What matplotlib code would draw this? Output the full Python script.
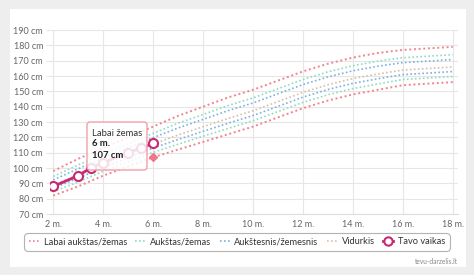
import matplotlib.pyplot as plt
from matplotlib.patches import FancyBboxPatch, Rectangle
from matplotlib.lines import Line2D
from matplotlib.transforms import IdentityTransform

plt.rcParams['font.family'] = ['Lato', 'DejaVu Sans']

# growth percentile curves (cm) by age (years)
ages = [2, 3, 4, 5, 6, 7, 8, 9, 10, 11, 12, 13, 14, 15, 16, 17, 18]
labai_aukstas = [98, 106, 113, 120, 127, 134, 140, 146, 151, 157, 163, 168, 172, 175, 177, 178, 179]
aukstas = [94.5, 102.0, 109.0, 115.8, 122.6, 129.2, 134.9, 140.7, 145.7, 151.7, 157.7, 162.7, 166.7, 169.7, 171.9, 172.9, 173.9]
aukstesnis = [92.2, 99.5, 106.5, 113.2, 119.8, 126.1, 131.7, 137.4, 142.4, 148.4, 154.4, 159.4, 163.4, 166.4, 168.7, 169.7, 170.7]
vidurkis = [88.9, 95.7, 102.7, 109.2, 115.6, 121.5, 126.9, 132.3, 137.3, 143.3, 149.3, 154.3, 158.3, 161.3, 163.9, 164.9, 165.9]
zemesnis = [86.8, 93.4, 100.4, 106.7, 113.0, 118.6, 123.9, 129.2, 134.2, 140.2, 146.2, 151.2, 155.2, 158.2, 160.9, 161.9, 162.9]
zemas = [84.6, 90.9, 97.9, 104.0, 110.2, 115.5, 120.7, 125.8, 130.8, 136.8, 142.8, 147.8, 151.8, 154.8, 157.7, 158.7, 159.7]
labai_zemas = [82, 88, 95, 101, 107, 112, 117, 122, 127, 133, 139, 144, 148, 151, 154, 155, 156]

# the child's measurements
child_age = [2, 3, 3.5, 4, 5, 5.5, 6]
child_height = [88, 95, 100, 103.5, 110, 113, 116]

xticks = [2, 4, 6, 8, 10, 12, 14, 16, 18]
yticks = [70, 80, 90, 100, 110, 120, 130, 140, 150, 160, 170, 180, 190]

red = '#f3838f'
green = '#8fdcc2'
blue = '#7fb1e3'
tan = '#d9bfa8'
child_col = '#c72a72'

W, H = 474, 275
fig = plt.figure(figsize=(W / 100, H / 100), dpi=100)
fig.patch.set_facecolor('#eeeeee')
fig.add_artist(Rectangle((10 / W, 1 - 267 / H), 456 / W, 258 / H,
                         transform=fig.transFigure, fc='white', ec='none', zorder=-1))

ax = fig.add_axes([50 / W, 1 - 214 / H, 408 / W, 184 / H])
ax.set_xlim(1.87, 18.21)
ax.set_ylim(70, 190)

dot = (0, (1, 1.4))
ax.plot(ages, labai_aukstas, color=red, lw=1.4, ls=dot, zorder=2)
ax.plot(ages, aukstas, color=green, lw=1.2, ls=dot, zorder=2)
ax.plot(ages, aukstesnis, color=blue, lw=1.2, ls=dot, zorder=2)
ax.plot(ages, vidurkis, color=tan, lw=1.2, ls=dot, zorder=2)
ax.plot(ages, zemesnis, color=blue, lw=1.2, ls=dot, zorder=2)
ax.plot(ages, zemas, color=green, lw=1.2, ls=dot, zorder=2)
ax.plot(ages, labai_zemas, color=red, lw=1.4, ls=dot, zorder=2)

ax.plot(child_age, child_height, color=child_col, lw=2, marker='o', ms=6.5,
        mfc='white', mec=child_col, mew=1.5, zorder=3)
# hover marker on the "Labai žemas" curve
ax.plot([ages[4]], [labai_zemas[4]], marker='D', ms=4.5, color='#f0768a', zorder=3)

ax.set_xticks(xticks)
ax.set_xticklabels([f'{t} m.' for t in xticks])
ax.set_yticks(yticks)
ax.set_yticklabels([f'{t} cm' for t in yticks])
ax.grid(True, color='#e6e6e6', lw=0.8)
ax.set_axisbelow(True)
for s in ['top', 'right', 'left']:
    ax.spines[s].set_visible(False)
ax.spines['bottom'].set_color('#d8dde8')
ax.tick_params(axis='x', length=0, pad=4, labelsize=6.5, labelcolor='#666666')
ax.tick_params(axis='y', length=3, color='#e6e6e6', pad=2, labelsize=6.5, labelcolor='#666666')

# legend
handles = [
    Line2D([], [], color=red, lw=1.2, ls=dot),
    Line2D([], [], color=green, lw=1.2, ls=dot),
    Line2D([], [], color=blue, lw=1.2, ls=dot),
    Line2D([], [], color=tan, lw=1.2, ls=dot),
    Line2D([], [], color=child_col, lw=2, marker='o', ms=6, mfc='white', mec=child_col, mew=1.5),
]
labels = ['Labai aukštas/žemas', 'Aukštas/žemas', 'Aukštesnis/žemesnis', 'Vidurkis', 'Tavo vaikas']
leg = fig.legend(handles, labels, loc='center', bbox_to_anchor=(237 / W, 1 - 242 / H),
                 ncol=5, fontsize=6.7, frameon=True, handlelength=1.1, handletextpad=0.5,
                 columnspacing=0.9, borderpad=0.45, labelcolor='#333333')
leg.get_frame().set_edgecolor('#a0a0a0')
leg.get_frame().set_linewidth(0.8)
leg.get_frame().set_boxstyle('round,pad=0,rounding_size=0.4')

# tooltip
fig.add_artist(FancyBboxPatch((87, H - 170), 60, 48, boxstyle='round,pad=0,rounding_size=3',
                              transform=IdentityTransform(), fc=(1, 1, 1, 0.85),
                              ec='#f3a0aa', lw=1, zorder=5))
fig.text(92 / W, 1 - 133 / H, 'Labai žemas', fontsize=6.8, color='#333333', va='center', zorder=6)
fig.text(92 / W, 1 - 144 / H, '6 m.', fontsize=6.8, color='#222222', fontweight='bold', va='center', zorder=6)
fig.text(92 / W, 1 - 155 / H, '107 cm', fontsize=6.8, color='#222222', fontweight='bold', va='center', zorder=6)

fig.text(458 / W, 1 - 261 / H, 'tevu-darzelis.lt', fontsize=4.8, color='#888888', ha='right', va='center')

fig.savefig('out.png', dpi=100, facecolor=fig.get_facecolor())
